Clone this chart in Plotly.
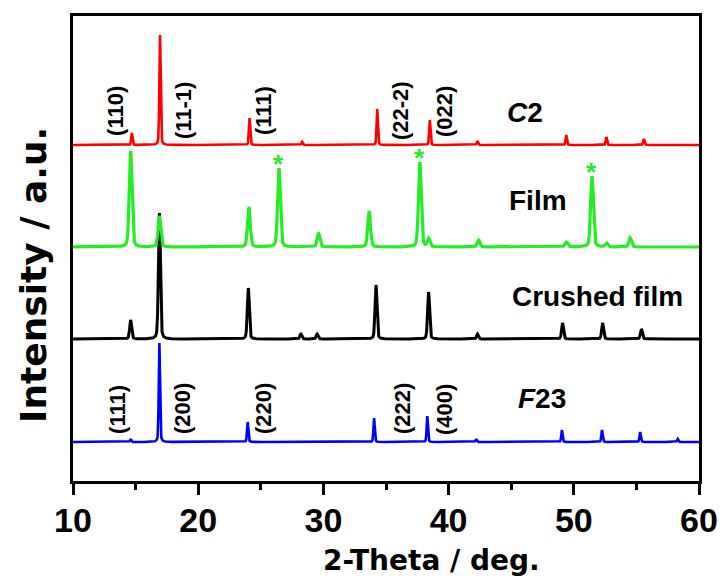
import numpy as np
import plotly.graph_objects as go

# Diffraction angle grid (deg)
two_theta = np.arange(10.0, 60.0001, 0.01)

# Peak lists: position (2-theta, deg) and intensity (a.u.) for each pattern
c2_pos = [14.7, 16.95, 24.1, 28.3, 34.3, 38.5, 42.3, 49.4, 52.6, 55.6]
c2_int = [12, 110, 27, 3, 36, 25, 4, 10, 8, 6]

film_pos = [14.6, 16.9, 24.05, 26.45, 29.6, 33.65, 37.7, 38.4, 42.4, 49.4, 51.45, 52.6, 54.5]
film_int = [96, 31, 40, 79, 14, 36, 85, 8, 7, 5, 71, 4, 9]

crushed_pos = [14.6, 16.9, 24.0, 28.2, 29.5, 34.2, 38.4, 42.3, 49.1, 52.3, 55.4]
crushed_int = [19, 126, 51, 5, 5, 54, 47, 5, 16, 16, 10]

f23_pos = [14.6, 16.9, 23.95, 34.05, 38.3, 42.2, 49.05, 52.25, 55.3, 58.3]
f23_int = [3, 99, 20, 24, 26, 3, 12, 12, 10, 3]

# Peak widths (FWHM, deg) and vertical stacking offsets (a.u.)
fwhm = {"C2": 0.12, "Film": 0.25, "Crushed film": 0.18, "F23": 0.12}
offset = {"C2": 336, "Film": 234, "Crushed film": 142, "F23": 39}

# Film reflections marked with an asterisk
star_pos = [26.45, 37.7, 51.45]

# Miller indices
c2_hkl = ["(110)", "(11-1)", "(111)", "(22-2)", "(022)"]
c2_hkl_x = [13.35, 18.79, 25.18, 36.12, 39.63]
f23_hkl = ["(111)", "(200)", "(220)", "(222)", "(400)"]
f23_hkl_x = [13.51, 18.71, 25.18, 36.28, 39.63]


def profile(pos, inten, w, eta=0.3):
    """Pseudo-Voigt sum of the listed reflections."""
    y = np.zeros_like(two_theta)
    hw = w / 2.0
    for p, h in zip(pos, inten):
        d = (two_theta - p) / hw
        y += h * (eta / (1 + d ** 2) + (1 - eta) * np.exp(-np.log(2) * d ** 2))
    return y


GREEN = "#22ee22"
# drawn bottom to top so the film pattern sits over the crushed-film peak
patterns = [
    ("F23", f23_pos, f23_int, "#0000ff", 2.6),
    ("Crushed film", crushed_pos, crushed_int, "#000000", 3.0),
    ("Film", film_pos, film_int, GREEN, 3.2),
    ("C2", c2_pos, c2_int, "#ff0000", 2.6),
]

fig = go.Figure()
for name, pos, inten, color, lw in patterns:
    fig.add_trace(go.Scatter(
        x=two_theta,
        y=profile(pos, inten, fwhm[name]) + offset[name],
        mode="lines", name=name,
        line=dict(color=color, width=lw),
        showlegend=False,
    ))

ann = []
hkl_font = dict(family="Arial", size=22, color="black")
for txt, x in zip(c2_hkl, c2_hkl_x):
    ann.append(dict(x=x, y=370, text="<b>%s</b>" % txt, textangle=-90, showarrow=False,
                    font=hkl_font, xanchor="center", yanchor="middle"))
for txt, x in zip(f23_hkl, f23_hkl_x):
    ann.append(dict(x=x, y=72, text="<b>%s</b>" % txt, textangle=-90, showarrow=False,
                    font=hkl_font, xanchor="center", yanchor="middle"))

# Asterisks above the film peaks
film_profile = profile(film_pos, film_int, fwhm["Film"]) + offset["Film"]
for p in star_pos:
    top = film_profile[np.argmin(np.abs(two_theta - p))]
    ann.append(dict(x=p, y=top + 4, text="<b>*</b>", showarrow=False,
                    font=dict(family="Arial", size=26, color=GREEN),
                    xanchor="center", yanchor="middle"))

label_font = dict(family="Arial", size=28, color="black")
ann += [
    dict(x=46.1, y=369, text="<b><i>C</i>2</b>", showarrow=False, font=label_font),
    dict(x=47.14, y=281, text="<b>Film</b>", showarrow=False, font=label_font),
    dict(x=51.93, y=185, text="<b>Crushed film</b>", showarrow=False, font=label_font),
    dict(x=47.46, y=83, text="<b><i>F</i>23</b>", showarrow=False, font=label_font),
    # axis titles
    dict(xref="paper", yref="paper", x=0.572, y=-0.172, text="<b>2-Theta / deg.</b>",
         showarrow=False, xanchor="center", yanchor="middle",
         font=dict(family="DejaVu Sans", size=28, color="black")),
    dict(xref="paper", yref="paper", x=-0.064, y=0.443, text="<b>Intensity / a.u.</b>",
         textangle=-90, showarrow=False, xanchor="center", yanchor="middle",
         font=dict(family="DejaVu Sans", size=36, color="black")),
]

fig.update_layout(
    width=723, height=580,
    margin=dict(l=73, r=24, t=16, b=99, autoexpand=False),
    plot_bgcolor="white", paper_bgcolor="white",
    annotations=ann,
    xaxis=dict(
        range=[10, 60], dtick=10, tick0=10, automargin=False,
        showline=True, linecolor="black", linewidth=2.5, mirror=True,
        ticks="outside", ticklen=11, tickwidth=2.5, tickcolor="black",
        minor=dict(dtick=5, ticks="outside", ticklen=6, tickwidth=2.5, tickcolor="black"),
        showgrid=False, zeroline=False, ticklabelstandoff=-4,
        tickfont=dict(family="Arial", size=34, color="black", weight="bold"),
    ),
    yaxis=dict(
        range=[0, 465], automargin=False,
        showline=True, linecolor="black", linewidth=2.5, mirror=True,
        showticklabels=False, ticks="", showgrid=False, zeroline=False,
    ),
)

fig.write_html("out.html")
